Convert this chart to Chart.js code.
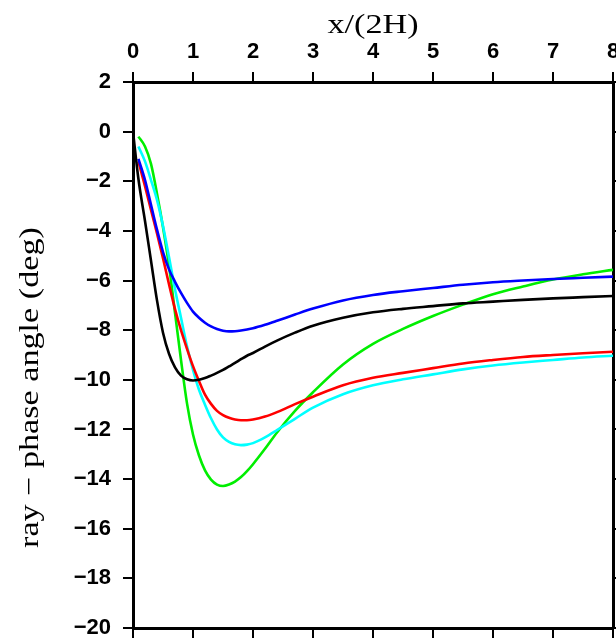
<!DOCTYPE html>
<html>
<head>
<meta charset="utf-8">
<script src="https://cdn.jsdelivr.net/npm/chart.js@4/dist/chart.umd.min.js"></script>
<style>
  html, body { margin: 0; padding: 0; background: #fff; overflow: hidden; }
  canvas { display: block; }
</style>
</head>
<body>
<canvas id="rayChart" width="640" height="660"></canvas>
<script>
// x positions (in units of 2H) shared by every curve
const xValues = [0, 0.09, 0.2, 0.3, 0.4, 0.5, 0.6, 0.7, 0.8, 0.9, 1.0, 1.1, 1.2, 1.3, 1.4, 1.5, 1.6, 1.7, 1.8, 1.9,
  2.0, 2.2, 2.4, 2.7, 3.0, 3.5, 4.0, 4.5, 5.0, 5.5, 6.0, 6.5, 7.0, 7.5, 8.0];

// ray - phase angle (deg), null where a curve has no point
const blackCurve = [0, -1.9, -3.6, -5.2, -6.8, -8.1, -8.95, -9.5, -9.83, -9.98, -10.03, -10.0, -9.93, -9.83, -9.72, -9.6,
  -9.46, -9.32, -9.17, -9.03, -8.92, -8.66, -8.42, -8.1, -7.82, -7.5, -7.28, -7.14, -7.03, -6.92, -6.85, -6.78, -6.72, -6.67, -6.62];
const blueCurve = [null, -1.1, -1.95, -2.95, -3.95, -4.85, -5.55, -6.05, -6.5, -6.9, -7.25, -7.5, -7.7, -7.85, -7.95, -8.02,
  -8.05, -8.04, -8.01, -7.97, -7.92, -7.78, -7.62, -7.37, -7.13, -6.8, -6.58, -6.43, -6.3, -6.17, -6.07, -6.0, -5.94, -5.89, -5.84];
const redCurve = [null, -1.2, -2.2, -3.15, -4.1, -5.1, -6.15, -7.15, -8.0, -8.75, -9.45, -10.05, -10.6, -10.97, -11.25, -11.42,
  -11.53, -11.6, -11.63, -11.63, -11.6, -11.48, -11.3, -10.98, -10.68, -10.22, -9.92, -9.72, -9.53, -9.34, -9.2, -9.08, -9.0, -8.93, -8.87];
const cyanCurve = [null, -0.6, -1.2, -1.95, -2.75, -3.8, -5.05, -6.35, -7.5, -8.65, -9.6, -10.4, -11.0, -11.55, -12.0, -12.32,
  -12.5, -12.6, -12.63, -12.61, -12.55, -12.32, -12.03, -11.57, -11.12, -10.58, -10.22, -9.98, -9.78, -9.58, -9.42, -9.3, -9.2, -9.1, -9.03];
const greenCurve = [null, -0.2, -0.6, -1.3, -2.5, -3.85, -5.4, -7.3, -9.2, -10.95, -12.2, -13.05, -13.65, -14.02, -14.22, -14.28,
  -14.22, -14.1, -13.92, -13.68, -13.4, -12.78, -12.12, -11.25, -10.5, -9.38, -8.55, -7.95, -7.43, -6.97, -6.55, -6.24, -5.96, -5.75, -5.57];

// axis ranges and titles
const xMin = 0, xMax = 8, xStep = 1;
const yMin = -20, yMax = 2, yStep = 2;
const xTitle = "x/(2H)";
const yTitle = "ray \u2212 phase angle (deg)";

// turn an y array into {x, y} points, skipping the empty ones
const toPoints = (ys) =>
  xValues.map((x, i) => ({ x: x, y: ys[i] })).filter((p) => p.y !== null);

const makeLine = (label, ys, color) => ({
  label: label,
  data: toPoints(ys),
  borderColor: color,
  borderWidth: 2.6,
  pointRadius: 0,
  fill: false,
  cubicInterpolationMode: "monotone",
});

// minus sign like the original labels
const tickLabel = (v) => (v < 0 ? "\u2212" + Math.abs(v) : String(v));

const tickFont = { family: "'Liberation Sans', Arial, sans-serif", size: 22, weight: "bold" };
const gridOpts = {
  drawOnChartArea: false,
  drawTicks: true,
  tickLength: 10,
  tickWidth: 2,
  lineWidth: 2,
  tickColor: "#000",
  color: "#000",
};
const borderOpts = { display: true, color: "#000", width: 3 };

// the source plot uses a wide serif for the titles, so stretch them along the text
const titleFont = "28px 'Liberation Serif', 'Times New Roman', serif";
const titleStretch = 1.22;
const axisTitles = {
  id: "axisTitles",
  afterDraw(chart) {
    const { ctx, chartArea } = chart;
    ctx.save();
    ctx.fillStyle = "#000";
    ctx.font = titleFont;
    ctx.textBaseline = "alphabetic";
    ctx.textAlign = "center";
    ctx.translate((chartArea.left + chartArea.right) / 2, 33);
    ctx.scale(titleStretch, 1);
    ctx.fillText(xTitle, 0, 0);
    ctx.restore();

    ctx.save();
    ctx.fillStyle = "#000";
    ctx.font = titleFont;
    ctx.textBaseline = "alphabetic";
    ctx.textAlign = "left";
    ctx.translate(38, 548);
    ctx.rotate(-Math.PI / 2);
    ctx.scale(titleStretch, 1);
    ctx.fillText(yTitle, 0, 0);
    ctx.restore();
  },
};

const canvas = document.getElementById("rayChart");

new Chart(canvas, {
  type: "line",
  data: {
    datasets: [
      makeLine("black", blackCurve, "#000000"),
      makeLine("blue", blueCurve, "#0000ff"),
      makeLine("red", redCurve, "#ff0000"),
      makeLine("cyan", cyanCurve, "#00ffff"),
      makeLine("green", greenCurve, "#00ee00"),
    ],
  },
  options: {
    responsive: false,
    animation: false,
    layout: { padding: 0 },
    plugins: { legend: { display: false }, tooltip: { enabled: false } },
    scales: {
      x: {
        type: "linear",
        position: "top",
        min: xMin,
        max: xMax,
        ticks: { stepSize: xStep, autoSkip: false, maxRotation: 0, padding: 7, color: "#000", font: tickFont, callback: tickLabel },
        grid: gridOpts,
        border: borderOpts,
        afterFit: (scale) => { scale.height = 82; },
      },
      x2: {
        type: "linear",
        position: "bottom",
        min: xMin,
        max: xMax,
        ticks: { stepSize: xStep, display: false },
        grid: gridOpts,
        border: borderOpts,
        afterFit: (scale) => { scale.height = 32; },
      },
      y: {
        type: "linear",
        position: "left",
        min: yMin,
        max: yMax,
        ticks: { stepSize: yStep, autoSkip: false, padding: 12, color: "#000", font: tickFont, callback: tickLabel },
        grid: gridOpts,
        border: borderOpts,
        afterFit: (scale) => { scale.width = 133; },
      },
      y2: {
        type: "linear",
        position: "right",
        min: yMin,
        max: yMax,
        ticks: { stepSize: yStep, display: false },
        grid: gridOpts,
        border: borderOpts,
        afterFit: (scale) => { scale.width = 27; },
      },
    },
  },
  plugins: [axisTitles],
});
</script>
</body>
</html>
